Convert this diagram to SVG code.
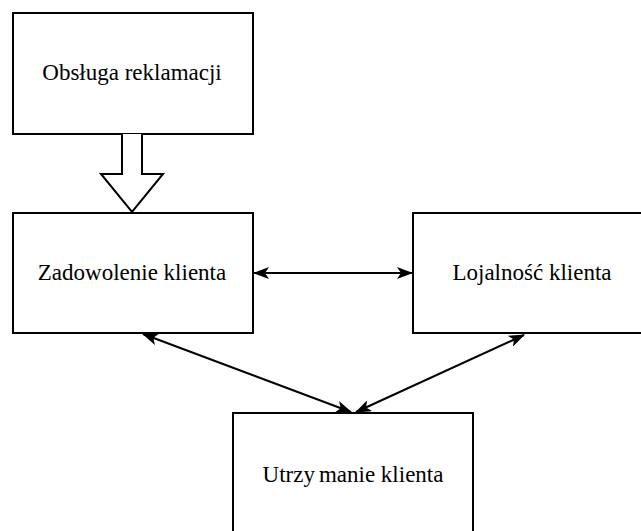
<svg xmlns="http://www.w3.org/2000/svg" width="641" height="531" viewBox="0 0 641 531">
  <style>
    .box { fill: #ffffff; stroke: #000000; stroke-width: 2; }
    .label { font-family: "Liberation Serif", "Times New Roman", serif; font-size: 23px; fill: #000000; text-anchor: middle; }
    .link { fill: none; stroke: #000000; stroke-width: 2; marker-start: url(#head); marker-end: url(#head); }
  </style>
  <defs>
    <marker id="head" viewBox="0 0 16 12" refX="15" refY="6" markerWidth="16" markerHeight="12" markerUnits="userSpaceOnUse" orient="auto-start-reverse">
      <path d="M0,0 L16,6 L0,12 L4,6 Z" fill="#000000"/>
    </marker>
  </defs>
  <rect width="641" height="531" fill="#ffffff"/>

  <g id="obsluga-reklamacji">
    <rect class="box" x="13" y="13" width="240" height="121"/>
    <text class="label" x="132" y="80">Obsługa reklamacji</text>
  </g>

  <g id="zadowolenie-klienta">
    <rect class="box" x="13" y="213" width="240" height="120"/>
    <text class="label" x="132" y="280">Zadowolenie klienta</text>
  </g>

  <g id="lojalnosc-klienta">
    <rect class="box" x="413" y="213" width="240" height="120"/>
    <text class="label" x="532" y="280">Lojalność klienta</text>
  </g>

  <g id="utrzymanie-klienta">
    <rect class="box" x="233" y="413" width="240" height="130"/>
    <text class="label" x="353" y="482">Utrzy<tspan dx="4">manie klienta</tspan></text>
  </g>

  <g id="connectors">
    <!-- hollow block arrow from the top box down -->
    <path d="M122,134 L122,174 L101,174 L132,212 L163,174 L142,174 L142,134" fill="#ffffff" stroke="#000000" stroke-width="2" stroke-linejoin="miter"/>
    <line class="link" x1="254" y1="273" x2="412" y2="273"/>
    <line class="link" x1="143" y1="334" x2="351" y2="412"/>
    <line class="link" x1="524" y1="335" x2="356" y2="412"/>
  </g>
</svg>
